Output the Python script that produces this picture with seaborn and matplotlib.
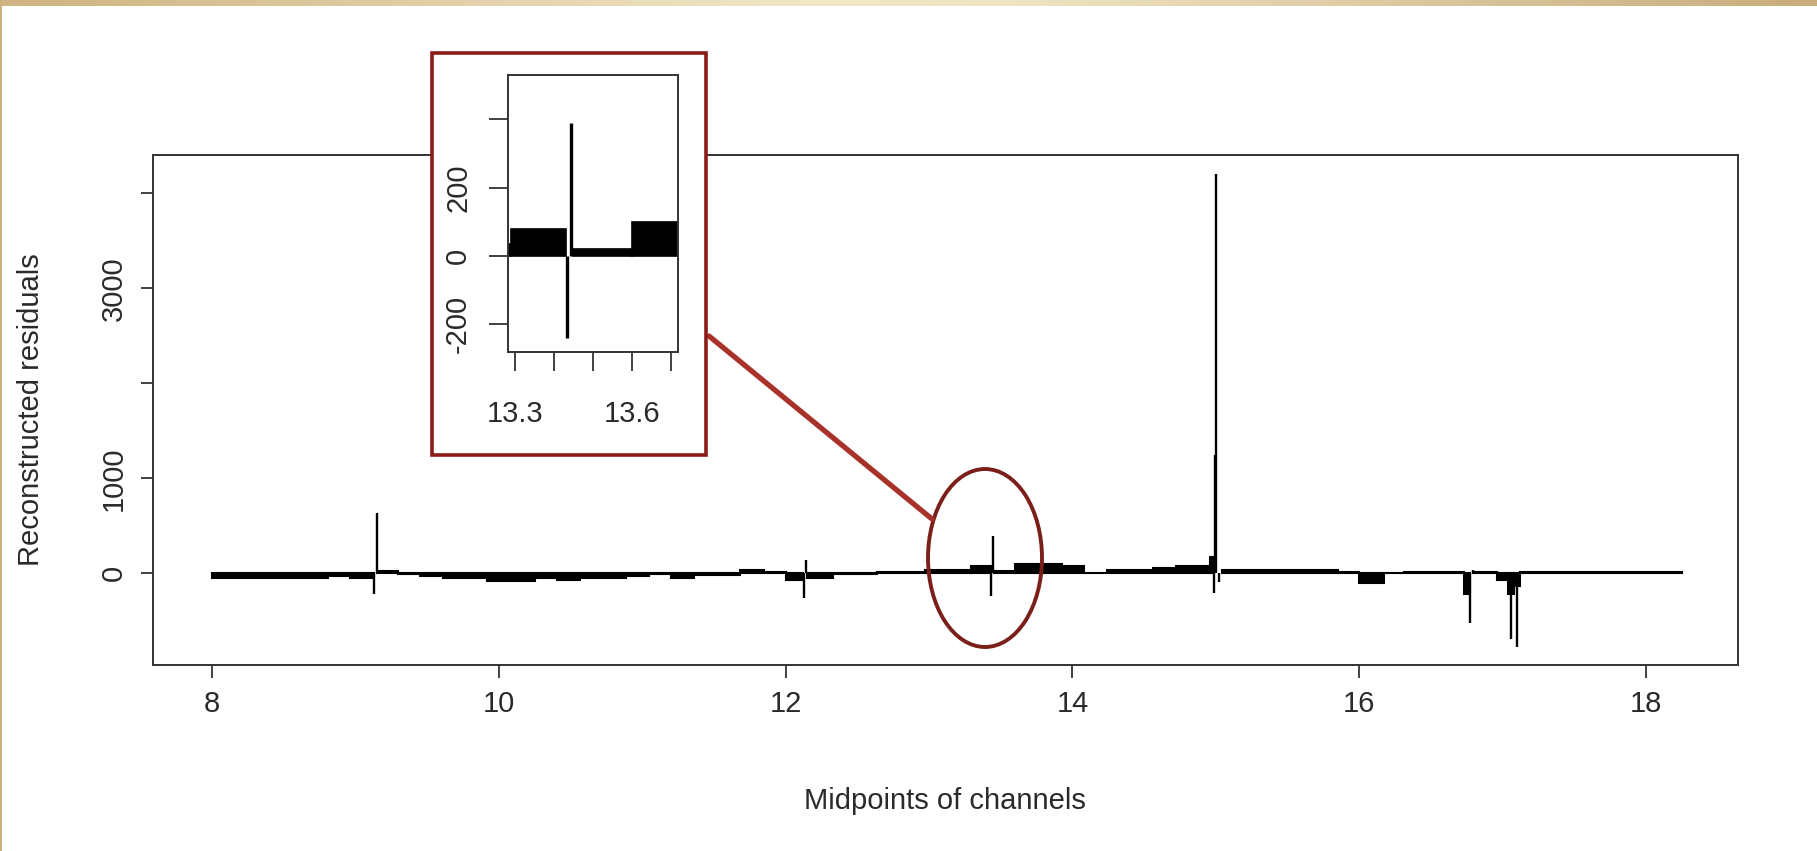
import numpy as np
import matplotlib
matplotlib.use("Agg")
import matplotlib.pyplot as plt
import seaborn as sns
from matplotlib.patches import Rectangle, Ellipse
from matplotlib.lines import Line2D
from matplotlib.colors import LinearSegmentedColormap

# ---- data ----
seg_start = [8.00, 8.81, 8.96, 9.15, 9.30, 9.45, 9.61, 9.92, 10.25, 10.41, 10.57, 10.89,
             11.05, 11.20, 11.36, 11.68, 11.85, 12.00, 12.15, 12.33, 12.64, 12.97, 13.29,
             13.45, 13.60, 13.93, 14.08, 14.24, 14.56, 14.72, 14.96, 15.04, 15.85, 16.00,
             16.17, 16.31, 16.73, 16.79, 16.96, 17.04, 17.08, 17.12]
seg_end = [8.81, 8.96, 9.13, 9.30, 9.45, 9.61, 9.92, 10.25, 10.41, 10.57, 10.89, 11.05,
           11.20, 11.36, 11.68, 11.85, 12.00, 12.12, 12.33, 12.64, 12.97, 13.29, 13.43,
           13.60, 13.93, 14.08, 14.24, 14.56, 14.72, 14.96, 14.99, 15.85, 16.00, 16.17,
           16.31, 16.73, 16.77, 16.96, 17.04, 17.08, 17.12, 18.25]
seg_value = [-45, -25, -45, 25, -5, -25, -45, -85, -45, -65, -45, -25,
             -10, -45, -15, 35, 15, -65, -45, -5, 15, 35, 80,
             20, 100, 80, 5, 35, 55, 80, 175, 35, 15, -105,
             5, 15, -220, 15, -70, -215, -130, 10]

spike_x = [9.128, 9.155, 12.129, 12.141, 13.434, 13.444, 14.987, 14.995, 15.003, 15.022,
           16.770, 16.790, 17.055, 17.097]
spike_value = [-215, 635, -260, 145, -240, 390, -205, 1250, 4200, -92,
               -520, 35, -690, -770]

main_xticks = [8, 10, 12, 14, 16, 18]
main_yticks = [0, 1000, 2000, 3000, 4000]
main_ytick_labels = ["0", "1000", "", "3000", ""]
inset_xticks = [13.3, 13.4, 13.5, 13.6, 13.7]
inset_xtick_labels = ["13.3", "", "", "13.6", ""]
inset_yticks = [-200, 0, 200, 400]
inset_ytick_labels = ["-200", "0", "200", ""]

x_label = "Midpoints of channels"
y_label = "Reconstructed residuals"

# ---- style ----
sns.set_theme(style="white")
plt.rcParams["font.family"] = ["Liberation Sans", "DejaVu Sans"]
TXT = "#2a2a2a"
FS = 21

W, H = 1817, 851
fig = plt.figure(figsize=(W / 100, H / 100), dpi=100)
fig.patch.set_facecolor("white")


def fx(px):
    return px / W


def fy(py):
    return 1 - py / H


# main axes
ax = fig.add_axes([fx(153), fy(665), fx(1738) - fx(153), fy(155) - fy(665)])
widths = np.subtract(seg_end, seg_start)
ax.bar(seg_start, seg_value, width=widths, align="edge", color="black",
       edgecolor="black", linewidth=1.5)
ax.vlines(spike_x, 0, spike_value, color="black", linewidth=1.7)
ax.set_xlim(7.59, 18.64)
ax.set_ylim(-964, 4402)
ax.set_xticks(main_xticks)
ax.set_xticklabels([str(t) for t in main_xticks])
ax.set_yticks(main_yticks)
ax.set_yticklabels(main_ytick_labels, rotation=90, va="center")
ax.tick_params(axis="both", direction="out", length=9, width=1.3, color="#333333",
               labelsize=FS, labelcolor=TXT, left=True, bottom=True)
ax.tick_params(axis="x", pad=9)
ax.tick_params(axis="y", pad=9)
for s in ax.spines.values():
    s.set_color("#333333")
    s.set_linewidth(1.4)
ax.set_facecolor("white")
fig.text(fx(945), fy(801), x_label, ha="center", va="center", fontsize=FS, color=TXT)
fig.text(fx(31), fy(410), y_label, ha="center", va="center", rotation=90,
         fontsize=FS, color=TXT)

# ellipse and connector
ell = Ellipse((fx(985), fy(558)), fx(114), 178 / H, transform=fig.transFigure,
              fill=False, edgecolor="#7b1f1a", linewidth=2.8, zorder=10)
fig.add_artist(ell)
conn = Line2D([fx(932), fx(709)], [fy(519), fy(336)], transform=fig.transFigure,
              color="#a8322a", linewidth=3.8, solid_capstyle="round", zorder=10)
fig.add_artist(conn)

# inset frame (white, red border)
box = Rectangle((fx(432), fy(455)), fx(706) - fx(432), fy(53) - fy(455),
                transform=fig.transFigure, facecolor="white", edgecolor="#8b1c17",
                linewidth=2.6, zorder=20)
fig.add_artist(box)

# inset axes
ins = fig.add_axes([fx(508.3), fy(351.7), fx(677.7) - fx(508.3), fy(75) - fy(351.7)])
ins.set_zorder(30)
ins.bar(seg_start, seg_value, width=widths, align="edge", color="black",
        edgecolor="black", linewidth=1.2)
ins.vlines(spike_x, 0, spike_value, color="black", linewidth=2.4)
ins.set_xlim(13.284, 13.716)
ins.set_ylim(-280, 530)
ins.set_xticks(inset_xticks)
ins.set_xticklabels(inset_xtick_labels)
ins.set_yticks(inset_yticks)
ins.set_yticklabels(inset_ytick_labels, rotation=90, va="center")
ins.tick_params(axis="both", direction="out", length=14, width=1.3, color="#333333",
                labelsize=FS, labelcolor=TXT, left=True, bottom=True)
ins.tick_params(axis="x", pad=21)
ins.tick_params(axis="y", pad=12)
for s in ins.spines.values():
    s.set_color("#333333")
    s.set_linewidth(1.4)
ins.set_facecolor("white")

# decorative top gradient band and left border line
band = fig.add_axes([0, fy(6), 1, 6 / H])
cmap = LinearSegmentedColormap.from_list(
    "tan", [(0.0, "#cfb381"), (0.45, "#f1e8c8"), (0.55, "#efe5c3"), (1.0, "#c8ac7c")])
band.imshow(np.linspace(0, 1, 512)[None, :], aspect="auto", cmap=cmap,
            extent=[0, 1, 0, 1])
band.set_axis_off()
fig.add_artist(Rectangle((0, 0), 2 / W, 1, transform=fig.transFigure,
                         facecolor="#cdb07e", edgecolor="none", zorder=40))

fig.savefig("out.png", dpi=100, facecolor="white")
